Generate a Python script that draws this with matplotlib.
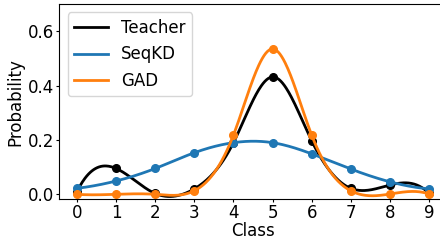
import numpy as np
from matplotlib import pyplot as plt

classes = np.arange(10)
teacher = [0.010, 0.095, 0.003, 0.020, 0.190, 0.432, 0.197, 0.022, 0.034, 0.004]
seqkd = [0.022, 0.049, 0.095, 0.153, 0.190, 0.190, 0.149, 0.093, 0.046, 0.020]
gad = [0.000, 0.000, 0.000, 0.013, 0.218, 0.535, 0.218, 0.013, 0.001, 0.001]


def spline(x, y, xs):
    # cubic spline, not-a-knot ends
    x = np.asarray(x, float)
    y = np.asarray(y, float)
    n = len(x)
    h = np.diff(x)
    A = np.zeros((n, n))
    b = np.zeros(n)
    for i in range(1, n - 1):
        A[i, i - 1] = h[i - 1]
        A[i, i] = 2 * (h[i - 1] + h[i])
        A[i, i + 1] = h[i]
        b[i] = 6 * ((y[i + 1] - y[i]) / h[i] - (y[i] - y[i - 1]) / h[i - 1])
    A[0, 0], A[0, 1], A[0, 2] = h[1], -(h[0] + h[1]), h[0]
    A[-1, -3], A[-1, -2], A[-1, -1] = h[-1], -(h[-2] + h[-1]), h[-2]
    M = np.linalg.solve(A, b)
    idx = np.clip(np.searchsorted(x, xs) - 1, 0, n - 2)
    x0, x1 = x[idx], x[idx + 1]
    hh = x1 - x0
    t0 = x1 - xs
    t1 = xs - x0
    return (M[idx] * t0 ** 3 / (6 * hh) + M[idx + 1] * t1 ** 3 / (6 * hh)
            + (y[idx] / hh - M[idx] * hh / 6) * t0
            + (y[idx + 1] / hh - M[idx + 1] * hh / 6) * t1)


plt.rcParams['font.size'] = 12
fig = plt.figure(figsize=(4.4, 2.4), dpi=100)
ax = fig.add_axes([0.135, 0.170, 0.88, 0.813])

xs = np.linspace(0, 9, 400)
for vals, col, name in [(teacher, 'black', 'Teacher'),
                        (seqkd, 'tab:blue', 'SeqKD'),
                        (gad, 'tab:orange', 'GAD')]:
    ax.plot(xs, spline(classes, vals, xs), color=col, lw=2, label=name)
    ax.plot(classes, vals, 'o', color=col, ms=5.5)

ax.set_xlim(-0.45, 9.45)
ax.set_ylim(-0.018, 0.7)
ax.set_xticks(classes)
ax.set_yticks([0.0, 0.2, 0.4, 0.6])
ax.tick_params(axis='x', length=2.5, pad=1)
ax.tick_params(axis='y', length=2.5, pad=1.5)
ax.set_xlabel('Class', labelpad=0)
ax.set_ylabel('Probability', labelpad=2)
ax.legend(loc='upper left', fontsize=12)
fig.savefig('out.png', dpi=100)
